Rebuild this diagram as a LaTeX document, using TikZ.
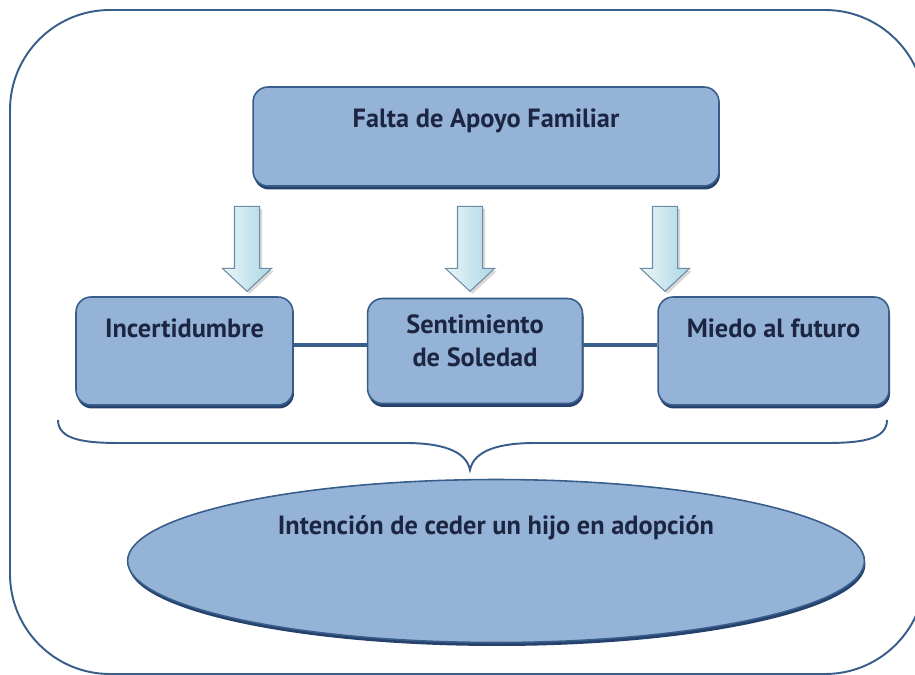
\documentclass[tikz,border=0pt]{standalone}
\usepackage{fontspec}
\setmainfont{PT Sans}
\usepackage{tikz}
\usetikzlibrary{shapes.geometric,shapes.arrows,shadows,positioning}
\definecolor{myboxblue}{RGB}{149,179,215}
\definecolor{myedgeblue}{RGB}{56,93,138}
\definecolor{mydarkblue}{RGB}{38,66,108}
\definecolor{mytextblue}{RGB}{28,38,66}
\definecolor{myarrowlight}{RGB}{234,246,250}
\definecolor{myarrowcyan}{RGB}{172,214,227}
\definecolor{myarrowedge}{RGB}{110,140,165}

\begin{document}
\begin{tikzpicture}[
  x=0.02cm, y=-0.02cm,
  myframe/.style={
    draw=myedgeblue,
    line width=1.1pt,
    rounded corners=2cm
    },
  mybox/.style={
    draw=myedgeblue,
    line width=0.9pt,
    fill=myboxblue,
    rounded corners=0.3cm,
    text=mytextblue,
    font=\fontsize{15}{18.7}\selectfont\bfseries,
    align=center,
    inner sep=0pt,
    text height=0.3cm,
    drop shadow={shadow xshift=0.02cm, shadow yshift=-0.07cm, fill=mydarkblue, opacity=1}
    },
  myoval/.style={
    mybox,
    ellipse,
    rounded corners=0pt
    },
  downarrow/.style={
    single arrow,
    shape border rotate=270,
    draw=myarrowedge,
    line width=0.6pt,
    left color=myarrowlight,
    right color=myarrowcyan,
    minimum height=1.7cm,
    minimum width=0.96cm,
    single arrow head extend=0.24cm,
    single arrow tip angle=94,
    inner sep=0.24cm,
    drop shadow={shadow xshift=0.05cm, shadow yshift=-0.05cm, fill=black!30, opacity=0.5}
    },
  link/.style={
    draw=myedgeblue,
    line width=2pt
    },
  bracket/.style={
    draw=myedgeblue,
    line width=1.1pt
    }
]

\clip (0,0) rectangle (915,675);
\draw[myframe] (10,10) rectangle (925,674);

% causa principal
\node[mybox, minimum width=9.32cm, minimum height=1.98cm, text depth=0.66cm]
  (apoyo) at (486,136.5) {Falta de Apoyo Familiar};

% consecuencias
\node[mybox, minimum width=4.34cm, minimum height=2.16cm, text depth=0.84cm]
  (incert) at (184.5,351) {Incertidumbre};
\node[mybox, minimum width=4.30cm, minimum height=2.10cm, text height=0.96cm, text depth=0.34cm]
  [right=1.46cm of incert] (soledad) {Sentimiento\\de Soledad};
\node[mybox, minimum width=4.62cm, minimum height=2.16cm, text depth=0.84cm]
  [right=1.48cm of soledad] (miedo) {Miedo al futuro};

\draw[link] ([yshift=0.12cm]incert.east) -- ([yshift=0.12cm]soledad.west);
\draw[link] ([yshift=0.12cm]soledad.east) -- ([yshift=0.12cm]miedo.west);

\foreach \Nombre/\Posx in {flechaA/247, flechaB/470, flechaC/665}
  \node[downarrow] (\Nombre) at (\Posx,243) {};

% llave
\coordinate (llaveL) at (58,420);
\coordinate (llaveP) at (470,470);
\coordinate (llaveR) at (887,420);
\draw[bracket] (llaveL) .. controls (58,440) and (85,443) .. (120,443) -- (405,443)
  .. controls (440,443) and (466,450) .. (llaveP)
  .. controls (474,450) and (500,443) .. (535,443) -- (825,443)
  .. controls (860,443) and (887,440) .. (llaveR);

% resultado
\node[myoval, minimum width=14.74cm, minimum height=3.26cm, text depth=1.36cm]
  (adopcion) at (496,561) {Intención de ceder un hijo en adopción};

\end{tikzpicture}
\end{document}
